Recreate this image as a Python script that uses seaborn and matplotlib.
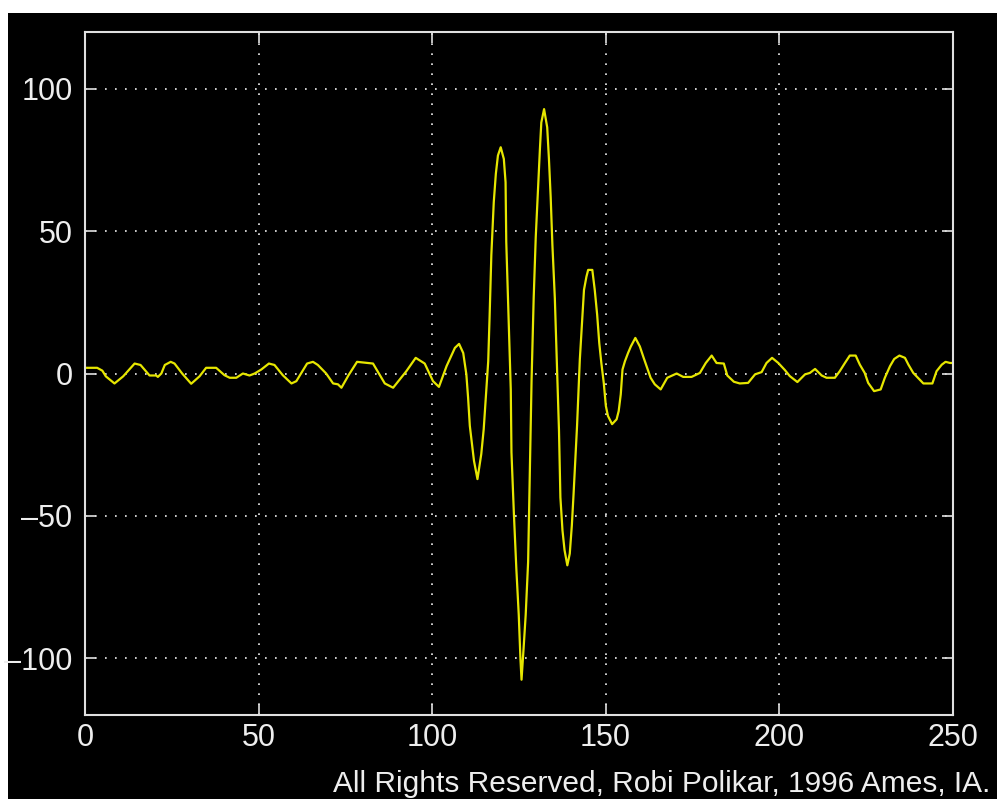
import matplotlib
matplotlib.use("Agg")
import matplotlib.pyplot as plt
from matplotlib.patches import Rectangle
import seaborn as sns
import pandas as pd

# Signal vertices
x_vals = [0, 3.5, 5, 6, 8.5, 11, 14.3, 16, 18.6, 20.5, 21, 22, 23, 24.7, 25.8, 28, 30.6, 33,
          34.9, 37.8, 40.2, 41.7, 43.6, 45.5, 47.4, 48.9, 50.8, 53, 54.6, 57, 59.5, 60.9, 64,
          65.7, 67.1, 69.5, 71.5, 72.9, 73.9, 76, 78.4, 83, 86.4, 88.8, 92.6, 95.3, 97.9,
          100.3, 102, 104.2, 106.6, 107.8, 109, 109.9, 110.4, 110.9, 111.6, 112.1, 113.1,
          114.2, 114.9, 115.5, 116.2, 116.6, 117.1, 117.8, 118.4, 119, 119.8, 120.7, 121.2,
          121.4, 122.1, 122.7, 122.9, 123.6, 124.3, 125, 125.5, 125.8, 126.4, 127, 127.7,
          128.2, 128.7, 129.3, 129.9, 130.6, 131.1, 131.5, 132.3, 133.2, 133.7, 134.2, 134.7,
          135.4, 135.9, 136.3, 136.6, 137, 137.6, 138.2, 139, 139.7, 140.3, 140.8, 141.3,
          141.8, 142.2, 142.6, 143.3, 143.8, 144.5, 145, 146.2, 146.9, 147.6, 148.2, 148.8,
          149.5, 150.1, 150.7, 151.9, 153.2, 153.8, 154.4, 154.9, 155.6, 156.5, 157.3, 158.6,
          159.9, 161, 162, 163, 164.2, 165.9, 167.8, 170.5, 172.4, 174.8, 177.2, 178.9, 180.6,
          182, 184.1, 185.1, 187, 188.7, 191.1, 193.1, 195, 196.4, 198, 199.8, 201.7, 203.1,
          205.3, 207.5, 208.9, 210.4, 212.3, 213.7, 216.1, 217.5, 219, 220.4, 222.1, 223.3,
          224.7, 225.7, 227.4, 229.3, 230.5, 232, 233.2, 234.7, 236.3, 237.3, 238.7, 240.2,
          241.6, 244.2, 245.4, 246.9, 248, 249.3, 250]
y_vals = [2, 2, 1, -1, -3.5, -1, 3.5, 3, -0.7, -0.7, -1.2, 0, 3, 4.1, 3.5, 0, -3.6, -1,
          2, 2, -0.6, -1.5, -1.5, 0, -0.7, 0, 1.4, 3.5, 3, -0.6, -3.5, -2.7, 3.5,
          4.1, 3, 0, -3.5, -3.8, -5, -0.5, 4.1, 3.5, -3.5, -5, 0.8, 5.5, 3.5,
          -2.7, -4.7, 2.6, 9, 10.4, 7.2, -0.3, -8.5, -18.4, -25.4, -30.7, -37.1,
          -28.3, -19.6, -8.5, 4.3, 20, 41.6, 60.2, 70.2, 76.6, 79.5, 75.4, 67.2,
          46.3, 17.7, -5.6, -27.7, -49.3, -68.5, -84.8, -100.6, -107.6, -96.5, -84.8, -66.2,
          -34.2, -2.1, 26.4, 48, 66, 78.9, 88.2, 92.9, 86.5, 75.4, 62, 45.1,
          26.4, 6.6, -9.1, -20.2, -43.5, -55.1, -62.1, -67.4, -63.3, -53.4, -42.3, -30.1,
          -18.4, -6.7, 4.9, 19.4, 29.4, 34, 36.4, 36.4, 29.4, 20.6, 10.7, 3.7,
          -3.3, -11.4, -14.9, -17.8, -16.1, -13.2, -7.3, 1.4, 4.3, 7.2, 9.5, 12.5,
          9.5, 5.5, 2, -1.5, -3.8, -5.6, -1.5, 0, -1.2, -1.2, 0.2, 3.7, 6.3,
          3.7, 3.5, -0.7, -2.9, -3.5, -3.3, -0.3, 0.5, 3.7, 5.5, 3.7, 1.2, -0.9,
          -3, -0.3, 0.2, 1.6, -0.7, -1.5, -1.5, 0.8, 3.7, 6.3, 6.3, 3.1,
          0.2, -3.3, -6.2, -5.6, -1.5, 2.6, 5.1, 6.3, 5.5, 3.1, 0.2, -1.7,
          -3.5, -3.5, 0.8, 3.1, 4.1, 3.7, 3.7]

x_ticks = [0, 50, 100, 150, 200, 250]
y_ticks = [-100, -50, 0, 50, 100]
x_limits = [0, 250]
y_limits = [-120, 120]
credit = "All Rights Reserved, Robi Polikar, 1996 Ames, IA."

sns.set_style("dark")
plt.rcParams['font.family'] = ['Liberation Sans', 'DejaVu Sans']
plt.rcParams['axes.unicode_minus'] = False

fig = plt.figure(figsize=(9.97, 7.99), dpi=100, facecolor="white")
fig.patches.append(Rectangle((8 / 997, 0), 1, (799 - 13) / 799, transform=fig.transFigure,
                             facecolor="black", edgecolor="none", zorder=-5))

ax = fig.add_axes([85 / 997, 1 - 715 / 799, (952.5 - 85) / 997, (715 - 32) / 799])
ax.set_facecolor("black")

df = pd.DataFrame({"x": x_vals, "y": y_vals})
sns.lineplot(data=df, x="x", y="y", ax=ax, color="#e6e600", linewidth=1.6,
             estimator=None, sort=False)

ax.set_xlim(*x_limits)
ax.set_ylim(*y_limits)
ax.set_xticks(x_ticks)
ax.set_yticks(y_ticks)
ax.set_yticklabels(["\u2013100", "\u201350", "0", "50", "100"])
ax.set_xlabel("")
ax.set_ylabel("")

ax.grid(True, color="#f0f0f0", linestyle=(0, (1, 5)), linewidth=1.2)
for sp in ax.spines.values():
    sp.set_visible(True)
    sp.set_color("#e0e0e0")
    sp.set_linewidth(1.5)

ax.tick_params(axis="both", which="both", direction="in", length=8, width=1.2,
               colors="#e0e0e0", labelcolor="#eeeeee", labelsize=22,
               top=True, right=True, bottom=True, left=True)
ax.tick_params(axis="x", pad=6)
ax.tick_params(axis="y", pad=9)

fig.text(990 / 997, 1 - 792 / 799, credit, ha="right", va="baseline",
         color="#eeeeee", fontsize=21.5)

fig.savefig("out.png", dpi=100, facecolor=fig.get_facecolor())
